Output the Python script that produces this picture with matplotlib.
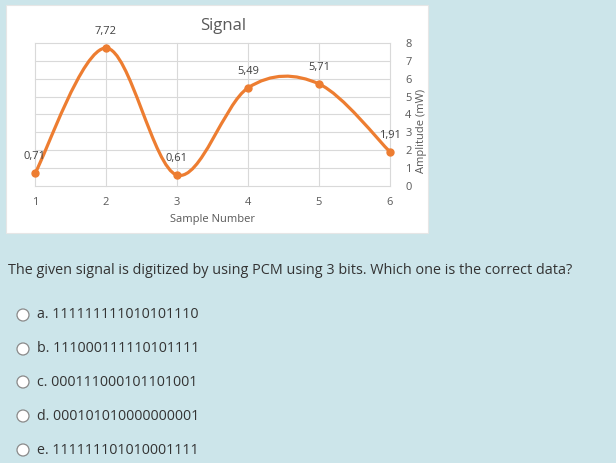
import numpy as np
import matplotlib
matplotlib.use("Agg")
import matplotlib.pyplot as plt
from matplotlib.path import Path
from matplotlib.patches import PathPatch, Rectangle, Circle

# data
samples = [1, 2, 3, 4, 5, 6]
amplitude = [0.71, 7.72, 0.61, 5.49, 5.71, 1.91]
y_ticks = [0, 1, 2, 3, 4, 5, 6, 7, 8]

question = "The given signal is digitized by using PCM using 3 bits. Which one is the correct data?"
options = ["a. 111111111010101110",
           "b. 111000111110101111",
           "c. 000111000101101001",
           "d. 000101010000000001",
           "e. 111111101010001111"]

orange = "#ED7D31"
grid_c = "#D9D9D9"
txt_c = "#595959"
bg = "#CCE5EA"
font = ["Open Sans", "DejaVu Sans"]

plt.rcParams['font.family'] = font

W, H = 616, 463
fig = plt.figure(figsize=(W / 100, H / 100), dpi=100)
fig.patch.set_facecolor(bg)

def fx(px):
    return px / W

def fy(py):
    return 1 - py / H

# white chart panel
fig.patches.append(Rectangle((fx(6), fy(233)), fx(428) - fx(6), fy(5) - fy(233),
                             transform=fig.transFigure, facecolor="white",
                             edgecolor="#E6E6E6", lw=0.8, zorder=-5))

ax = fig.add_axes([fx(35), fy(186), fx(390) - fx(35), fy(43) - fy(186)])
ax.set_facecolor("white")
ax.set_xlim(1, 6)
ax.set_ylim(0, 8)
for s in ax.spines.values():
    s.set_visible(False)
ax.set_xticks(samples)
ax.set_yticks(y_ticks)
ax.yaxis.tick_right()
ax.tick_params(axis="both", length=0, labelsize=8, labelcolor=txt_c)
ax.tick_params(axis="x", pad=8)
ax.tick_params(axis="y", pad=11)
ax.grid(True, color=grid_c, lw=0.8)
for gl in ax.get_xgridlines() + ax.get_ygridlines():
    gl.set_clip_on(False)
ax.set_axisbelow(True)

# smoothed line (Excel-style Catmull-Rom through the points)
x = np.array(samples, dtype=float)
y = np.array(amplitude, dtype=float)
n = len(x)
verts = [(x[0], y[0])]
codes = [Path.MOVETO]
for i in range(n - 1):
    p0 = np.array([x[max(i - 1, 0)], y[max(i - 1, 0)]])
    p1 = np.array([x[i], y[i]])
    p2 = np.array([x[i + 1], y[i + 1]])
    p3 = np.array([x[min(i + 2, n - 1)], y[min(i + 2, n - 1)]])
    c1 = p1 + (p2 - p0) / 6
    c2 = p2 - (p3 - p1) / 6
    verts += [tuple(c1), tuple(c2), tuple(p2)]
    codes += [Path.CURVE4] * 3
ax.add_patch(PathPatch(Path(verts, codes), facecolor="none", edgecolor=orange,
                       lw=2.3, capstyle="round", zorder=3, clip_on=False))
ax.plot(samples, amplitude, "o", color=orange, ms=5, zorder=4, clip_on=False)

for xv, yv in zip(samples, amplitude):
    ax.annotate(("%.2f" % yv).replace(".", ","), (xv, yv), xytext=(0, 12),
                textcoords="offset points", ha="center", va="center",
                fontsize=8, color="#404040")

ax.set_xlabel("Sample Number", fontsize=8, color=txt_c)
ax.xaxis.set_label_coords(0.5, (186 - 214) / 143)
ax.yaxis.set_label_position("right")
ax.set_ylabel("Amplitude (mW)", fontsize=8, color=txt_c)
ax.yaxis.set_label_coords((416 - 35) / 355, (186 - 131) / 143)

fig.text(fx(223), fy(26), "Signal", fontsize=12, color=txt_c, ha="center", va="center")

# question and answer options
fig.text(fx(8), fy(270), question, fontsize=10.35, color="#333333", ha="left", va="center")
opt_y = [315, 349, 382, 416, 450]
for oy, label in zip(opt_y, options):
    fig.patches.append(Circle((0.23, (H - oy) / 100), 0.06, transform=fig.dpi_scale_trans,
                              facecolor="white", edgecolor="#8A8A8A", lw=0.9))
    fig.text(fx(37), fy(oy), label, fontsize=10.25, color="#333333", ha="left", va="center")

fig.savefig("out.png", dpi=100, facecolor=bg)
